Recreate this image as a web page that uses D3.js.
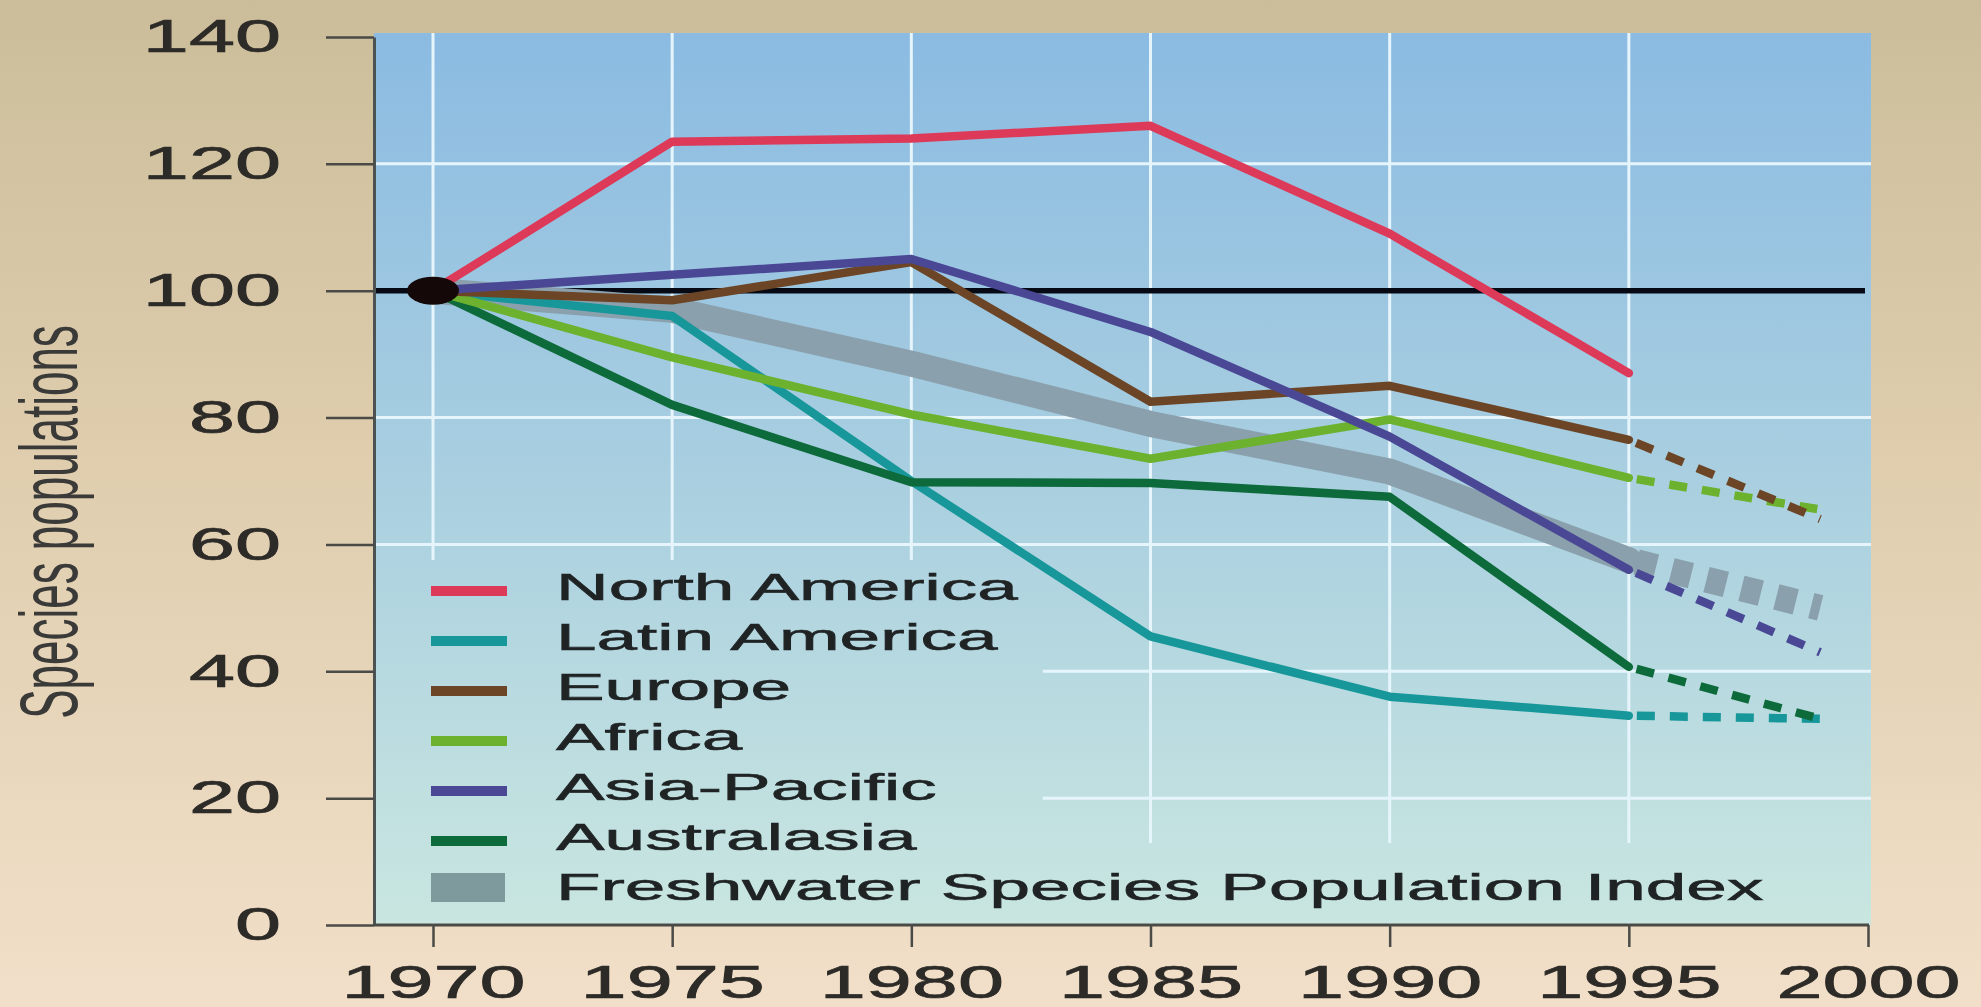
<!DOCTYPE html>
<html>
<head>
<meta charset="utf-8">
<script src="https://cdn.jsdelivr.net/npm/d3@7"></script>
<style>
  html, body { margin: 0; padding: 0; background: #e0cfb4; }
  svg { display: block; }
  text { font-family: "Liberation Sans", Arial, sans-serif; }
</style>
</head>
<body>
<svg id="chart" width="1981" height="1007"></svg>
<script>
// ---------------- data ----------------
const years = [1970, 1975, 1980, 1985, 1990, 1995];
const projYears = [1995, 1999];

const northAmerica = [100, 123.5, 124, 126, 109, 87];
const latinAmerica = [100, 96, 70, 45.5, 36, 33];
const europe       = [100, 98.5, 104.5, 82.5, 85, 76.5];
const africa       = [100, 89.5, 80.5, 73.5, 79.7, 70.5];
const asiaPacific  = [100, 102.5, 105, 93.5, 77, 56];
const australasia  = [100, 82, 69.8, 69.7, 67.5, 40.7];
const freshwater   = [100, 97, 88.5, 79, 71.5, 57.5];

const latinAmericaProj = [33, 32.5];
const europeProj       = [76.5, 64];
const africaProj       = [70.5, 65.5];
const asiaPacificProj  = [56, 43];
const australasiaProj  = [40.7, 32.5];
const freshwaterProj   = [57.5, 50];

const seriesNames = ["North America", "Latin America", "Europe", "Africa",
                     "Asia-Pacific", "Australasia", "Freshwater Species Population Index"];
const seriesColors = ["#dd3a5a", "#17979a", "#6c4526", "#6cb22e",
                      "#4a4895", "#0d6a3b", "#8ba0ad"];

const yTicks = [0, 20, 40, 60, 80, 100, 120, 140];
const xTicks = [1970, 1975, 1980, 1985, 1990, 1995, 2000];
const gridY = [20, 40, 60, 80, 120];
const gridX = [1970, 1975, 1980, 1985, 1990, 1995];
const baselineValue = 100;
const yTitle = "Species populations";

// ---------------- layout ----------------
const W = 1981, H = 1007;
const plotLeft = 374, plotRight = 1871, plotTop = 33, plotBottom = 925;
const x = d3.scaleLinear().domain([1970, 2000]).range([433, 1868]);
const y = d3.scaleLinear().domain([0, 140]).range([925, 37]);
const SX_TICK = 1.8, SX_LEG = 1.97, SX_TITLE = 1.85;

const svg = d3.select("#chart");
const defs = svg.append("defs");

const outerGrad = defs.append("linearGradient").attr("id", "outerGrad")
  .attr("x1", 0).attr("y1", 0).attr("x2", 0).attr("y2", 1);
outerGrad.append("stop").attr("offset", "0%").attr("stop-color", "#cbbd9a");
outerGrad.append("stop").attr("offset", "45%").attr("stop-color", "#dfcdae");
outerGrad.append("stop").attr("offset", "100%").attr("stop-color", "#f1dfc9");

const plotGrad = defs.append("linearGradient").attr("id", "plotGrad")
  .attr("gradientUnits", "userSpaceOnUse")
  .attr("x1", 0).attr("y1", plotTop).attr("x2", 0).attr("y2", plotBottom);
plotGrad.append("stop").attr("offset", "0%").attr("stop-color", "#8bbbe2");
plotGrad.append("stop").attr("offset", "50%").attr("stop-color", "#a9cfe0");
plotGrad.append("stop").attr("offset", "100%").attr("stop-color", "#c9e6e0");

svg.append("rect").attr("x", 0).attr("y", 0).attr("width", W).attr("height", H)
  .attr("fill", "url(#outerGrad)");

svg.append("rect").attr("x", plotLeft).attr("y", plotTop)
  .attr("width", plotRight - plotLeft).attr("height", plotBottom - plotTop)
  .attr("fill", "url(#plotGrad)");

// gridlines
const grid = svg.append("g").attr("stroke", "#e6f5fc").attr("stroke-width", 3);
grid.selectAll("line.h").data(gridY).join("line").attr("class", "h")
  .attr("x1", plotLeft).attr("x2", plotRight)
  .attr("y1", d => y(d)).attr("y2", d => y(d));
grid.selectAll("line.v").data(gridX).join("line").attr("class", "v")
  .attr("x1", d => x(d)).attr("x2", d => x(d))
  .attr("y1", plotTop).attr("y2", plotBottom);

// legend background (hides gridlines behind legend)
const legendBg = svg.append("g");

// baseline at 100
svg.append("line")
  .attr("x1", plotLeft).attr("x2", plotRight - 6)
  .attr("y1", y(baselineValue)).attr("y2", y(baselineValue))
  .attr("stroke", "#050a14").attr("stroke-width", 5.5);

// series
const allSeries = [
  { vals: northAmerica, proj: null },
  { vals: latinAmerica, proj: latinAmericaProj },
  { vals: europe, proj: europeProj },
  { vals: africa, proj: africaProj },
  { vals: asiaPacific, proj: asiaPacificProj },
  { vals: australasia, proj: australasiaProj },
  { vals: freshwater, proj: freshwaterProj }
];
const line = d3.line().x(d => x(d[0])).y(d => y(d[1]));

function drawSeries(i, width) {
  const s = allSeries[i];
  const col = seriesColors[i];
  const g = svg.append("g");
  g.append("path").attr("d", line(years.map((yr, k) => [yr, s.vals[k]])))
    .attr("fill", "none").attr("stroke", col).attr("stroke-width", width)
    .attr("stroke-linejoin", "round").attr("stroke-linecap", "round");
  if (s.proj) {
    g.append("path").attr("d", line(projYears.map((yr, k) => [yr, s.proj[k]])))
      .attr("fill", "none").attr("stroke", col).attr("stroke-width", width)
      .attr("stroke-dasharray", i === 6 ? "20,16" : "18,15")
      .attr("stroke-dashoffset", -8)
      .attr("stroke-linecap", "butt");
  }
}
// freshwater band underneath
drawSeries(6, 26);
[1, 5, 3, 2, 4, 0].forEach(i => drawSeries(i, 8.5));

// origin dot
svg.append("ellipse").attr("cx", x(1970)).attr("cy", y(baselineValue))
  .attr("rx", 26).attr("ry", 14).attr("fill", "#140808");

// axes
const yAxis = d3.axisLeft(y).tickValues(yTicks).tickSize(48).tickPadding(45).tickSizeOuter(0);
const gy = svg.append("g").attr("transform", `translate(${plotLeft},0)`).call(yAxis);
gy.select(".domain").attr("stroke", "#4a5252").attr("stroke-width", 3);
gy.selectAll(".tick line").attr("stroke", "#4a4a46").attr("stroke-width", 2.5);
gy.selectAll(".tick text")
  .attr("font-size", 46).attr("fill", "#2d2b28")
  .attr("stroke", "#2d2b28").attr("stroke-width", 0.7)
  .attr("x", -93 / SX_TICK)
  .attr("transform", `scale(${SX_TICK},1)`);

const xAxis = d3.axisBottom(x).tickValues(xTicks).tickSize(22).tickPadding(18)
  .tickFormat(d3.format("d")).tickSizeOuter(0);
const gx = svg.append("g").attr("transform", `translate(0,${plotBottom})`).call(xAxis);
gx.select(".domain").remove();
gx.append("line").attr("x1", plotLeft).attr("x2", x(2000) + 1).attr("y1", 0).attr("y2", 0)
  .attr("stroke", "#4a4a46").attr("stroke-width", 3);
gx.selectAll(".tick line").attr("stroke", "#4a4a46").attr("stroke-width", 2.5);
gx.selectAll(".tick text")
  .attr("font-size", 46).attr("fill", "#2d2b28")
  .attr("stroke", "#2d2b28").attr("stroke-width", 0.7)
  .attr("transform", `scale(${SX_TICK},1)`);

// y title
svg.append("text")
  .attr("transform", `translate(77,522) scale(${SX_TITLE},1) rotate(-90)`)
  .attr("text-anchor", "middle").attr("font-size", 44).attr("fill", "#3a3a38")
  .text(yTitle);

// legend
const legTop = 587, legStep = 50, swX1 = 431, swX2 = 507, txtX = 556;
const leg = svg.append("g");
const rights = [];
seriesNames.forEach((name, i) => {
  const cy = legTop + i * legStep;
  if (i === 6) {
    leg.append("rect").attr("x", swX1).attr("y", cy - 14).attr("width", swX2 - 2 - swX1)
      .attr("height", 29).attr("fill", "#7f9a9c");
  } else {
    leg.append("line").attr("x1", swX1).attr("x2", swX2).attr("y1", cy + 4).attr("y2", cy + 4)
      .attr("stroke", seriesColors[i]).attr("stroke-width", 10);
  }
  const t = leg.append("text")
    .attr("transform", `translate(${txtX},${cy + 13}) scale(${SX_LEG},1)`)
    .attr("font-size", 37).attr("fill", "#1f2324")
    .attr("stroke", "#1f2324").attr("stroke-width", 0.6)
    .text(name);
  rights.push(txtX + t.node().getComputedTextLength() * SX_LEG);
});
const rightA = d3.max(rights.slice(0, 6)) + 25;
legendBg.append("rect").attr("x", plotLeft + 2).attr("y", legTop - 27)
  .attr("width", rightA - plotLeft - 2).attr("height", plotBottom - 2 - (legTop - 27))
  .attr("fill", "url(#plotGrad)");
const lastCy = legTop + 6 * legStep;
legendBg.append("rect").attr("x", plotLeft + 2).attr("y", lastCy - 44)
  .attr("width", rights[6] + 25 - plotLeft - 2).attr("height", plotBottom - 2 - (lastCy - 44))
  .attr("fill", "url(#plotGrad)");
</script>
</body>
</html>
